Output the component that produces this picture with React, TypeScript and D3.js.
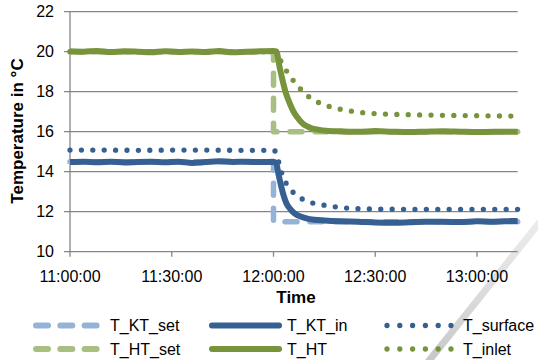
import React from "react";
import * as d3 from "d3";

// ---- data (minutes after 11:00:00) ----
const TIME_TICKS = [0, 30, 60, 90, 120];
const TIME_LABELS = ["11:00:00", "11:30:00", "12:00:00", "12:30:00", "13:00:00"];
const TEMP_TICKS = [10, 12, 14, 16, 18, 20, 22];

const ktSetT = [0, 60, 60, 132];
const ktSetV = [14.5, 14.5, 11.5, 11.5];

const htSetT = [0, 60, 60, 132];
const htSetV = [20, 20, 16, 16];

const ktInT = [0, 4, 8, 12, 16, 20, 24, 28, 32, 36, 40, 44, 48, 52, 56, 60, 60.8, 61.5, 62.3, 63, 63.8, 65, 66.2, 68, 69.7, 72, 75, 80, 85, 90, 95, 100, 105, 110, 115, 120, 125, 130, 132];
const ktInV = [14.48, 14.5, 14.47, 14.5, 14.46, 14.49, 14.5, 14.47, 14.5, 14.44, 14.48, 14.52, 14.49, 14.5, 14.48, 14.5, 14.42, 13.85, 13.25, 12.8, 12.42, 12.12, 11.92, 11.76, 11.67, 11.6, 11.56, 11.52, 11.5, 11.46, 11.45, 11.47, 11.5, 11.5, 11.48, 11.52, 11.5, 11.53, 11.54];

const surfT = [0, 10, 20, 30, 40, 50, 60, 60.8, 61.8, 62.8, 64.6, 67, 70.2, 73.4, 76.8, 80.2, 85, 90, 100, 110, 120, 132];
const surfV = [15.08, 15.08, 15.07, 15.08, 15.08, 15.07, 15.07, 14.95, 14.3, 13.75, 13.2, 12.8, 12.5, 12.37, 12.28, 12.2, 12.15, 12.13, 12.12, 12.12, 12.12, 12.12];

const htT = [0, 4, 8, 12, 16, 20, 24, 28, 32, 36, 40, 44, 48, 52, 56, 60, 60.8, 61.8, 62.7, 63.7, 64.7, 65.7, 67, 68.6, 70, 71.5, 73.5, 75.5, 80, 85, 90, 95, 100, 105, 110, 115, 120, 125, 130, 132];
const htV = [20.02, 20.0, 20.04, 19.98, 20.02, 20.0, 19.97, 20.02, 19.99, 20.01, 19.98, 20.03, 19.97, 20.0, 20.02, 20.04, 20.02, 19.23, 18.55, 17.9, 17.45, 17.07, 16.72, 16.41, 16.26, 16.16, 16.09, 16.05, 16.02, 16.0, 16.03, 16.0, 15.98, 16.0, 16.02, 16.0, 15.98, 16.0, 16.0, 16.0];

const inletT = [0, 20, 40, 60, 60.8, 61.8, 62.9, 64.9, 67.1, 69.3, 72, 74.7, 77.7, 80.8, 83.9, 87.1, 90.1, 95, 100, 110, 120, 132];
const inletV = [20.0, 20.0, 20.0, 20.0, 20.0, 19.65, 19.3, 18.77, 18.3, 17.9, 17.57, 17.36, 17.2, 17.09, 17.0, 16.94, 16.9, 16.87, 16.85, 16.82, 16.8, 16.78];

const C_KT_SET = "#95b3d7";
const C_KT = "#376092";
const C_HT_SET = "#a9bf82";
const C_HT = "#77933c";
const GRID = "#868686";
const FONT = "'Liberation Sans', Arial, sans-serif";

type Series = { name: string; t: number[]; v: number[]; color: string; kind: "dash" | "solid" | "dot" };

const SERIES: Series[] = [
  { name: "T_KT_set", t: ktSetT, v: ktSetV, color: C_KT_SET, kind: "dash" },
  { name: "T_KT_in", t: ktInT, v: ktInV, color: C_KT, kind: "solid" },
  { name: "T_surface", t: surfT, v: surfV, color: C_KT, kind: "dot" },
  { name: "T_HT_set", t: htSetT, v: htSetV, color: C_HT_SET, kind: "dash" },
  { name: "T_HT", t: htT, v: htV, color: C_HT, kind: "solid" },
  { name: "T_inlet", t: inletT, v: inletV, color: C_HT, kind: "dot" },
];

function strokeProps(kind: string) {
  if (kind === "dash") return { strokeWidth: 5.5, strokeDasharray: "12 13", strokeLinecap: "round" as const };
  if (kind === "dot") return { strokeWidth: 5.3, strokeDasharray: "0 11.4", strokeLinecap: "round" as const };
  return { strokeWidth: 6, strokeLinecap: "butt" as const };
}

export default function App() {
  const W = 538, H = 360;
  const x = d3.scaleLinear().domain([0, 132]).range([70, 517.7]);
  const y = d3.scaleLinear().domain([10, 22]).range([251.7, 11.7]);

  const mkLine = (kind: string) =>
    d3
      .line<[number, number]>()
      .x((d) => x(d[0]))
      .y((d) => y(d[1]))
      .curve(kind === "dash" ? d3.curveLinear : d3.curveMonotoneX);

  const legendCols = [
    { x0: 36, x1: 97, tx: 110 },
    { x0: 212, x1: 279, tx: 287 },
    { x0: 387, x1: 452, tx: 463 },
  ];
  const legendRows = [325.5, 349];

  const legendDash = (kind: string) =>
    kind === "dash" ? "12 12.3" : kind === "dot" ? "0 12.8" : undefined;

  return (
    <svg
      width={W}
      height={H}
      style={{ position: "fixed", left: 0, top: 0, background: "#fff" }}
      fontFamily={FONT}
    >
      <defs>
        <linearGradient id="stripe" x1="0" y1="1" x2="0" y2="0">
          <stop offset="0%" stopColor="#c4c4c4" stopOpacity={0.95} />
          <stop offset="100%" stopColor="#d8d8d8" stopOpacity={0.5} />
        </linearGradient>
      </defs>
      <rect x={0} y={0} width={W} height={H} fill="#fff" />
      <line x1={428} y1={362} x2={540} y2={222} stroke="url(#stripe)" strokeWidth={7} />

      {TEMP_TICKS.map((t) => (
        <g key={t}>
          <line x1={64} x2={517.7} y1={y(t)} y2={y(t)} stroke={GRID} strokeWidth={1.3} />
          <text x={54} y={y(t)} dy="0.35em" textAnchor="end" fontSize={16} fill="#000">
            {t}
          </text>
        </g>
      ))}
      <line x1={70} x2={70} y1={y(22)} y2={y(10)} stroke={GRID} strokeWidth={1.3} />
      {TIME_TICKS.map((t, i) => (
        <g key={t}>
          <line x1={x(t)} x2={x(t)} y1={y(10)} y2={y(10) + 5} stroke={GRID} strokeWidth={1.3} />
          <text x={x(t)} y={282} textAnchor="middle" fontSize={16} fill="#000">
            {TIME_LABELS[i]}
          </text>
        </g>
      ))}

      {SERIES.map((s) => {
        const pts = s.t.map((t, i) => [t, s.v[i]] as [number, number]);
        return (
          <path
            key={s.name}
            d={mkLine(s.kind)(pts) || ""}
            fill="none"
            stroke={s.color}
            strokeLinejoin="round"
            {...strokeProps(s.kind)}
          />
        );
      })}

      <text x={296} y={303} textAnchor="middle" fontSize={17} fontWeight="bold" fill="#000">
        Time
      </text>
      <text
        transform={`translate(23,131) rotate(-90)`}
        textAnchor="middle"
        fontSize={17}
        fontWeight="bold"
        fill="#000"
      >
        Temperature in °C
      </text>

      {SERIES.map((s, i) => {
        const col = legendCols[i % 3];
        const ry = legendRows[Math.floor(i / 3)];
        return (
          <g key={s.name}>
            <line
              x1={col.x0}
              x2={col.x1}
              y1={ry}
              y2={ry}
              stroke={s.color}
              strokeWidth={s.kind === "dot" ? 5.3 : 6}
              strokeLinecap="round"
              strokeDasharray={legendDash(s.kind)}
            />
            <text x={col.tx} y={ry} dy="0.35em" fontSize={16} fill="#000">
              {s.name}
            </text>
          </g>
        );
      })}
    </svg>
  );
}
